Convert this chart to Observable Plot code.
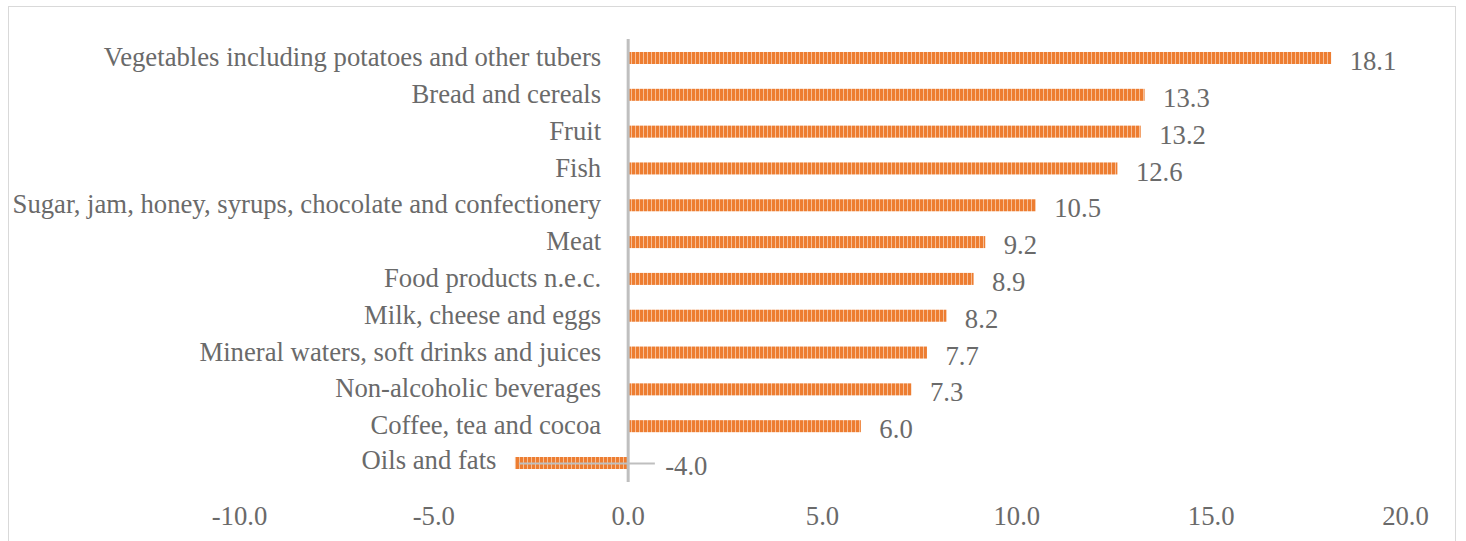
<!DOCTYPE html>
<html><head><meta charset="utf-8">
<script src="https://cdn.jsdelivr.net/npm/d3@7"></script>
<script src="https://cdn.jsdelivr.net/npm/@observablehq/plot@0.6"></script>
<style>
body{margin:0;background:#fff;}
#wrap{position:relative;width:1466px;height:541px;overflow:hidden;}
#border{position:absolute;left:8px;top:6px;width:1448px;height:600px;border:1.5px solid #D9D9D9;box-sizing:border-box;}
#chart{position:absolute;left:0;top:0;}
#chart svg, #chart svg text{font-family:"Liberation Serif","Times New Roman",serif !important;}
</style></head>
<body><div id="wrap"><div id="border"></div><div id="chart"></div></div>
<script>
const categories = [
  "Vegetables including potatoes and other tubers",
  "Bread and cereals",
  "Fruit",
  "Fish",
  "Sugar, jam, honey, syrups, chocolate and confectionery",
  "Meat",
  "Food products n.e.c.",
  "Milk, cheese and eggs",
  "Mineral waters, soft drinks and juices",
  "Non-alcoholic beverages",
  "Coffee, tea and cocoa",
  "Oils and fats"
];
const barValues = [18.1, 13.3, 13.2, 12.6, 10.5, 9.2, 8.9, 8.2, 7.7, 7.3, 6.0, -2.9];
const labelValues = [18.1, 13.3, 13.2, 12.6, 10.5, 9.2, 8.9, 8.2, 7.7, 7.3, 6.0, -4.0];
const xTicks = [-10, -5, 0, 5, 10, 15, 20];
const leaderCats = ["Oils and fats"];
const leaderFrom = [-2.8];
const leaderTo = [0.7];

const data = categories.map((c, i) => ({cat: c, value: barValues[i], label: labelValues[i].toFixed(1)}));
const leaders = leaderCats.map((c, i) => ({cat: c, x1: leaderFrom[i], x2: leaderTo[i]}));

const font = "Liberation Serif";
const fs = 26.7;
const txt = "#6A6A6A";
const plot = Plot.plot({
  width: 1466,
  height: 541,
  marginLeft: 239,
  marginRight: 61,
  marginTop: 39,
  marginBottom: 59,
  style: {fontFamily: font, fontSize: fs + "px", color: txt, background: "transparent"},
  x: {domain: [-10, 20]},
  y: {domain: categories, paddingInner: 0.674, paddingOuter: 0.353, align: 0.5, round: false, axis: null},
  marks: [
    Plot.barX(data, {y: "cat", x: "value", fill: "url(#stripes)"}),
    Plot.ruleY(leaders, {y: "cat", x1: "x1", x2: "x2", stroke: "#BFBFBF", strokeWidth: 2}),
    Plot.ruleX([0], {stroke: "#BFBFBF", strokeWidth: 3}),
    Plot.text(data, {filter: d => d.value > 0, y: "cat", x: "value", text: "label", textAnchor: "start", dx: 18, dy: 3, fill: txt, fontSize: fs, fontFamily: font}),
    Plot.text(data, {filter: d => d.value <= 0, y: "cat", x: 0, text: "label", textAnchor: "start", dx: 37, dy: 3, fill: txt, fontSize: fs, fontFamily: font}),
    Plot.text(data, {filter: d => d.value > 0, y: "cat", x: 0, text: "cat", textAnchor: "end", dx: -27, dy: -1, fill: txt, fontSize: fs, fontFamily: font}),
    Plot.text(data, {filter: d => d.value <= 0, y: "cat", x: "value", text: "cat", textAnchor: "end", dx: -19, dy: -3, fill: txt, fontSize: fs, fontFamily: font}),
    Plot.axisX({ticks: xTicks, tickSize: 0, tickPadding: 24, fontSize: fs, fill: txt, label: null, fontFamily: font, tickFormat: d => d.toFixed(1)})
  ]
});
const defs = d3.create("svg:defs");
const pat = defs.append("pattern").attr("id", "stripes").attr("patternUnits", "userSpaceOnUse").attr("width", 4).attr("height", 4);
pat.append("rect").attr("width", 4).attr("height", 4).attr("fill", "#ED7D31");
pat.append("rect").attr("x", 3).attr("width", 1).attr("height", 4).attr("fill", "#F7BE96");
plot.insertBefore(defs.node(), plot.firstChild);
document.getElementById("chart").appendChild(plot);
</script></body></html>
